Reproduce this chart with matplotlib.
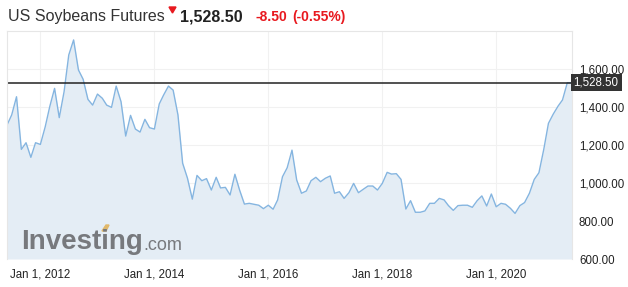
import numpy as np
import pandas as pd
import matplotlib
matplotlib.use("Agg")
import matplotlib.pyplot as plt
import matplotlib.dates as mdates
from matplotlib.patches import Polygon

plt.rcParams['font.family'] = ['Liberation Sans', 'DejaVu Sans']

# monthly closes, Jun 2011 .. May 2021
start = '2011-06-01'
prices = [1305, 1358, 1454, 1177, 1212, 1135, 1212, 1203, 1296, 1402,
          1498, 1344, 1481, 1674, 1753, 1595, 1546, 1440, 1410, 1468,
          1446, 1410, 1398, 1510, 1428, 1247, 1356, 1284, 1268, 1335,
          1291, 1284, 1416, 1463, 1510, 1489, 1358, 1104, 1025, 915,
          1040, 1012, 1023, 963, 1030, 974, 977, 937, 1046, 963,
          889, 893, 888, 883, 865, 883, 862, 911, 1033, 1080,
          1173, 1016, 946, 958, 1012, 1030, 1007, 1025, 1037, 946,
          954, 919, 949, 998, 949, 967, 984, 984, 963, 998,
          1056, 1047, 1049, 1019, 863, 907, 846, 846, 853, 893,
          893, 919, 911, 881, 856, 881, 883, 883, 872, 907,
          932, 879, 942, 875, 893, 888, 867, 840, 881, 897,
          946, 1019, 1054, 1177, 1314, 1363, 1405, 1437, 1528, 1528]
dates = pd.date_range(start, periods=len(prices), freq='MS')

last_price = 1528.50
change = -8.50
change_pct = -0.55
y_ticks = [600, 800, 1000, 1200, 1400, 1600]
x_ticks = ['2012-01-01', '2014-01-01', '2016-01-01', '2018-01-01', '2020-01-01']

W, H = 628, 287
fig = plt.figure(figsize=(W / 100, H / 100), dpi=100)
fig.patch.set_facecolor('white')

ax = fig.add_axes([7 / W, (H - 259) / H, 565 / W, 228 / H])
ax.fill_between(dates, prices, 600, color='#e4edf5', lw=0)
ax.plot(dates, prices, color='#85b5e0', lw=1.0)
ax.axhline(last_price, color='#222222', lw=1.1)

ax.set_xlim(dates[0], dates[-1])
ax.set_ylim(600, 1800)
ax.set_yticks(y_ticks)
ax.set_xticks(pd.to_datetime(x_ticks))
ax.xaxis.set_major_formatter(mdates.DateFormatter('Jan 1, %Y'))
ax.yaxis.tick_right()
ax.set_yticklabels(['{:,.2f}'.format(v) for v in y_ticks])
ax.tick_params(axis='both', length=0, labelsize=8.3, colors='#222222')
ax.tick_params(axis='y', pad=5)
ax.tick_params(axis='x', pad=7)
for lab in ax.get_yticklabels():
    lab.set_horizontalalignment('left')
ax.grid(True, color='#f1f1f1', lw=0.8)
ax.set_axisbelow(True)
for side in ['left', 'top', 'right']:
    ax.spines[side].set_color('#e6e6e6')
    ax.spines[side].set_linewidth(0.8)
ax.spines['bottom'].set_visible(False)

# price tag on the right
ax.annotate('{:,.2f}'.format(last_price), xy=(1.0, last_price),
            xycoords=('axes fraction', 'data'), xytext=(1.2, 0),
            textcoords='offset points', va='center', ha='left',
            fontsize=8.3, color='white',
            bbox=dict(boxstyle='square,pad=0.25', fc='#333333', ec='none'))

# header
fig.text(8 / W, 1 - 17 / H, 'US Soybeans Futures', fontsize=11.5,
         color='#333333', va='center', ha='left')
fig.text(180 / W, 1 - 17 / H, '{:,.2f}'.format(last_price), fontsize=11.5,
         color='#222222', weight='bold', va='center', ha='left')
fig.text(255 / W, 1 - 17 / H, '{:.2f}'.format(change), fontsize=10,
         color='#e8191f', weight='bold', va='center', ha='left')
fig.text(292 / W, 1 - 17 / H, '({:.2f}%)'.format(change_pct), fontsize=10,
         color='#e8191f', weight='bold', va='center', ha='left')
fig.add_artist(Polygon([[169 / W, 1 - 7 / H], [176 / W, 1 - 7 / H],
                        [172.5 / W, 1 - 13 / H]], closed=True,
                       transform=fig.transFigure, color='#e8191f'))

# watermark
fig.text(21 / W, 1 - 242 / H, 'Investing', fontsize=20, weight='bold',
         color='#77797d', va='center', ha='left')
fig.text(143 / W, 1 - 245 / H, '.com', fontsize=13,
         color='#77797d', va='center', ha='left')
fig.add_artist(Polygon([[102 / W, 1 - 231 / H], [106 / W, 1 - 225 / H],
                        [109 / W, 1 - 225 / H], [106 / W, 1 - 231 / H]],
                       closed=True, transform=fig.transFigure,
                       color='#e0b86a'))

fig.savefig('out.png', dpi=100)
